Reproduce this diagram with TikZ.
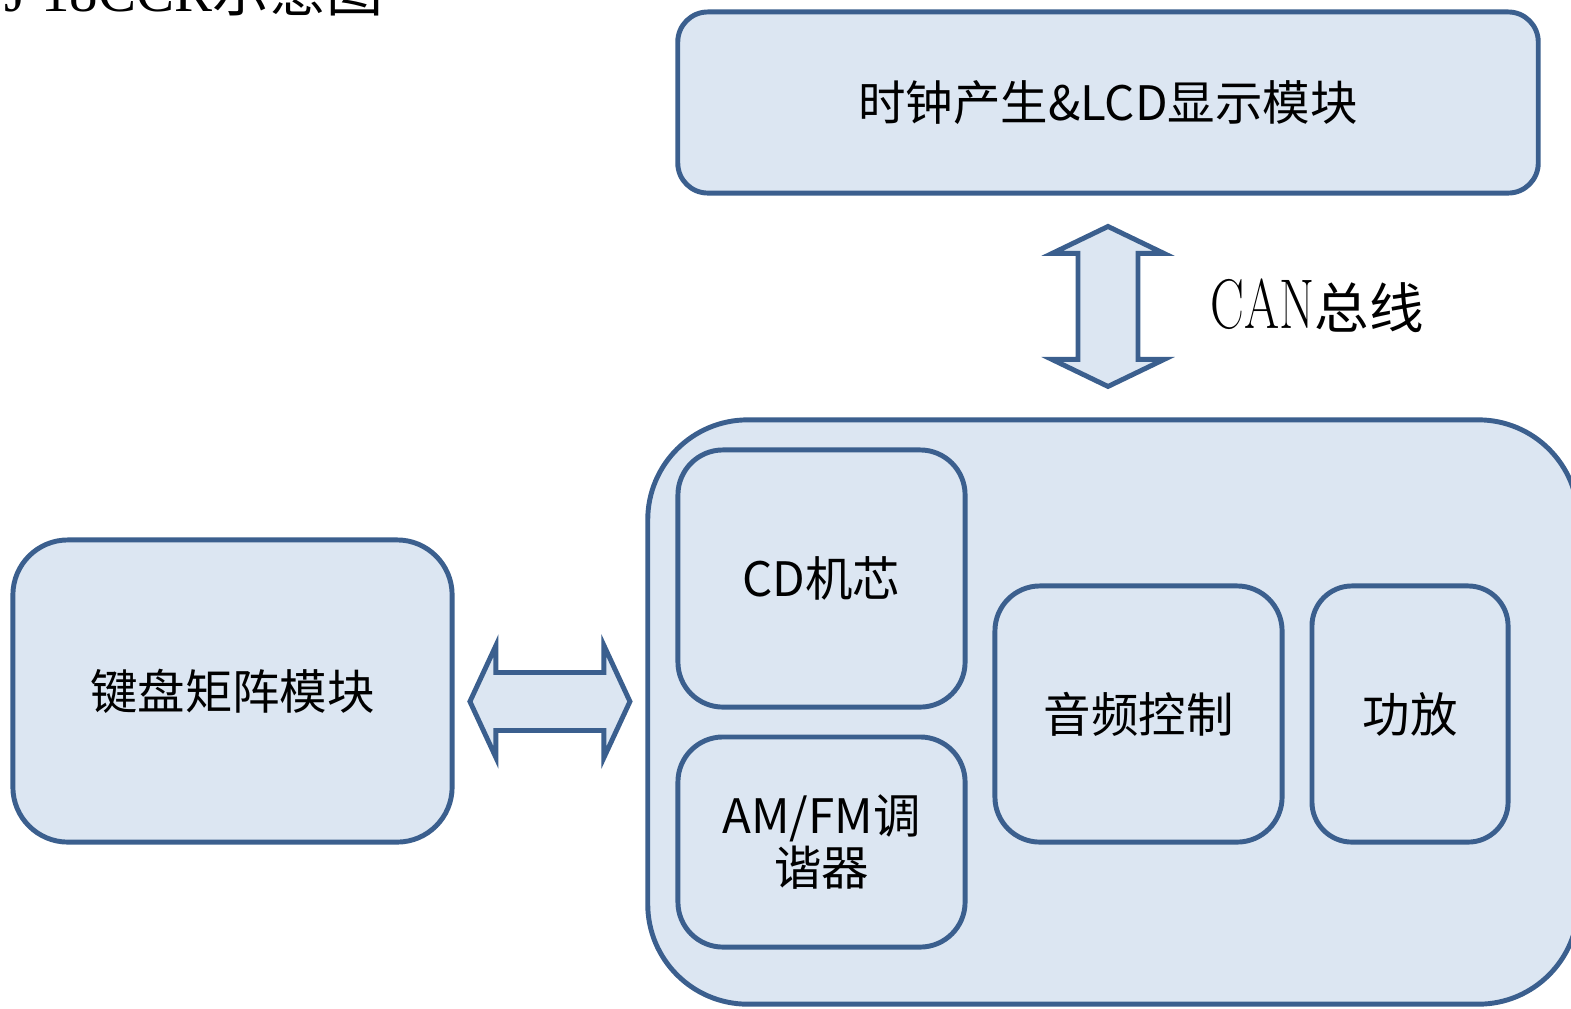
\documentclass[tikz,border=0pt]{standalone}
\usepackage{fontspec}
\newfontfamily\cjk{Noto Sans CJK SC}
\newfontfamily\titlefont{Liberation Serif}
\usetikzlibrary{calc}
\definecolor{boxline}{HTML}{3B5F8E}
\definecolor{boxfill}{HTML}{DCE6F2}
\tikzset{
	blockbox/.style={draw=boxline,fill=boxfill,line width=1.4pt,rounded corners=#1,anchor=center,align=center,font=\cjk\fontsize{13.5}{15}\selectfont},
	blockbox/.default=0.45cm,
	fatarrow/.style={draw=boxline,fill=boxfill,line width=1.4pt,line join=miter},
}
\begin{document}
\begin{tikzpicture}[x=0.01cm,y=-0.01cm]
				\useasboundingbox (0,0) rectangle (1571,1008);
				\clip (0,0) rectangle (1571,1008);
				% title, cut at the top of the page
				\node (title) at (4,11) [anchor=base west,inner sep=0pt,font=\fontsize{16.2}{19}\selectfont] {\titlefont J 18CCR\cjk 示意图};
				\node (clock) at (1108,102.5) [blockbox=0.3cm,minimum width=8.6cm,minimum height=1.81cm] {时钟产生\&LCD显示模块};
				\node (keys) at (232.5,691) [blockbox=0.55cm,minimum width=4.39cm,minimum height=3.02cm] {键盘矩阵模块};
				\node (media) at (1113,712) [blockbox=1cm,minimum width=9.3cm,minimum height=5.84cm] {};
				\node (cd) at (821.5,578.5) [blockbox,minimum width=2.87cm,minimum height=2.57cm] {CD机芯};
				\node (tuner) at (821.5,842) [blockbox,minimum width=2.87cm,minimum height=2.1cm] {AM/FM调\\谐器};
				\node (audio) at (1138.5,714) [blockbox,minimum width=2.87cm,minimum height=2.56cm] {音频控制};
				\node (amp) at (1410,714) [blockbox=0.4cm,minimum width=1.96cm,minimum height=2.56cm] {功放};
				% bus arrow
				\coordinate (canbus) at ($(clock.south)!0.5!(clock.south|-media.north)$);
				\draw[fatarrow] (canbus) ++(0,-80) -- ++(56,27) -- ++(-26,0) -- ++(0,106) -- ++(26,0) -- ++(-56,27) -- ++(-56,-27) -- ++(26,0) -- ++(0,-106) -- ++(-26,0) -- cycle;
				\node (canlabel) at (1210,306) [anchor=west,inner sep=0pt] {\fontsize{20}{22}\selectfont\scalebox{0.72}[1]{CAN}\cjk\fontsize{15.5}{18}\selectfont 总线};
				% keyboard link
				\coordinate (keylink) at ($(keys.east)!0.5!(media.west)$);
				\draw[fatarrow] (keylink) ++(-80,0) -- ++(26,-56) -- ++(0,27) -- ++(108,0) -- ++(0,-27) -- ++(26,56) -- ++(-26,56) -- ++(0,-27) -- ++(-108,0) -- ++(0,27) -- cycle;
\end{tikzpicture}
\end{document}
